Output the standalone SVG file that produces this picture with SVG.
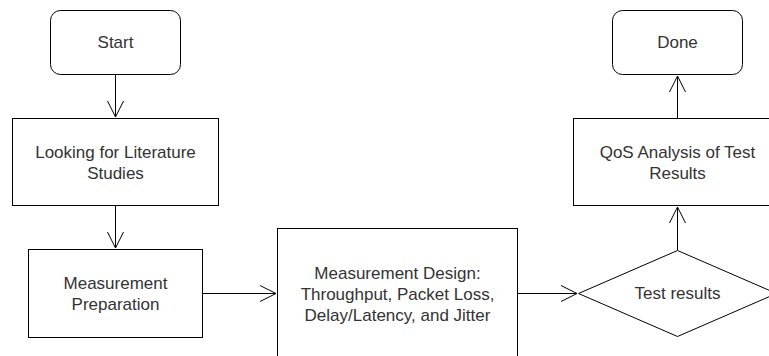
<svg xmlns="http://www.w3.org/2000/svg" width="769" height="356" viewBox="0 0 769 356">
<style>
.n{fill:#fff;stroke:#000;stroke-width:1}
.t{font-family:"Liberation Sans",Arial,sans-serif;font-size:17px;fill:#333;text-anchor:middle;dominant-baseline:central}
.c{fill:none;stroke:#000;stroke-width:1}
</style>
<rect width="769" height="356" fill="#fff"/>
<g id="connectors">
<path class="c" d="M115.5 75V117"/><path class="c" d="M107.5 101L115.5 117L123.5 101"/>
<path class="c" d="M115.5 206V248"/><path class="c" d="M107.5 232L115.5 248L123.5 232"/>
<path class="c" d="M203 293.5H276"/><path class="c" d="M260 285.5L276 293.5L260 301.5"/>
<path class="c" d="M517 293.5H577"/><path class="c" d="M561 285.5L577 293.5L561 301.5"/>
<path class="c" d="M677.5 250V207"/><path class="c" d="M669.5 223L677.5 207L685.5 223"/>
<path class="c" d="M677.5 118V76"/><path class="c" d="M669.5 92L677.5 76L685.5 92"/>
</g>
<g id="start"><rect class="n" x="50.5" y="10.5" width="130" height="64" rx="10"/><text class="t" x="115.5" y="42.5">Start</text></g>
<g id="literature"><rect class="n" x="12.5" y="118.5" width="206" height="87"/><text class="t" x="115.5" y="152.5">Looking for Literature</text><text class="t" x="115.5" y="173.5">Studies</text></g>
<g id="preparation"><rect class="n" x="28.5" y="249.5" width="174" height="88"/><text class="t" x="115.5" y="283">Measurement</text><text class="t" x="115.5" y="304">Preparation</text></g>
<g id="design"><rect class="n" x="277.5" y="228.5" width="240" height="140"/><text class="t" x="397.5" y="273">Measurement Design:</text><text class="t" x="397.5" y="294">Throughput, Packet Loss,</text><text class="t" x="397.5" y="315">Delay/Latency, and Jitter</text></g>
<g id="test"><path class="n" d="M677.5 250.5L776.5 293.5L677.5 336.5L578.5 293.5Z"/><text class="t" x="677.5" y="293.5">Test results</text></g>
<g id="qos"><rect class="n" x="573.5" y="118.5" width="208" height="87"/><text class="t" x="677.5" y="152.5">QoS Analysis of Test</text><text class="t" x="677.5" y="173.5">Results</text></g>
<g id="done"><rect class="n" x="612.5" y="10.5" width="130" height="64" rx="10"/><text class="t" x="677.5" y="42.5">Done</text></g>
</svg>
